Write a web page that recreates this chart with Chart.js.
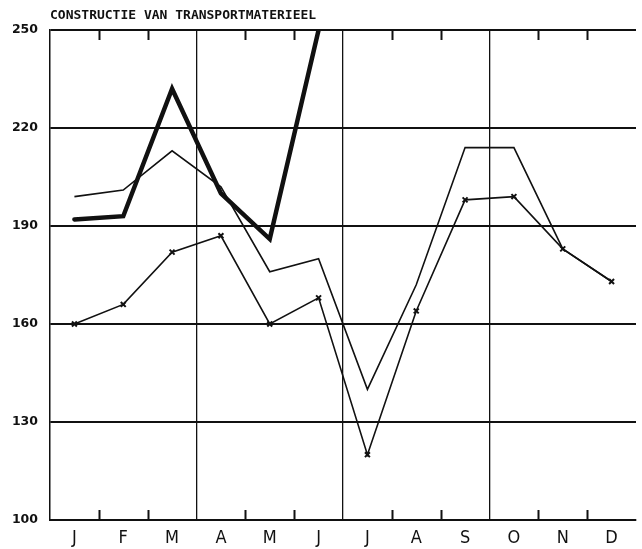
<!DOCTYPE html>
<html>
<head>
<meta charset="utf-8">
<script src="https://cdn.jsdelivr.net/npm/chart.js@4"></script>
<style>
  html, body { margin: 0; padding: 0; background: #fff; }
  #wrap { width: 642px; height: 549px; }
</style>
</head>
<body>
<div id="wrap"><canvas id="chart" width="642" height="549"></canvas></div>
<script>
// Months (Dutch initials) and the three series
const months = ['J', 'F', 'M', 'A', 'M', 'J', 'J', 'A', 'S', 'O', 'N', 'D'];
const thickSeries = [192, 193, 232, 200, 186, 250, null, null, null, null, null, null];
const plainSeries = [199, 201, 213, 202, 176, 180, 140, 172, 214, 214, 183, 173];
const crossSeries = [160, 166, 182, 187, 160, 168, 120, 164, 198, 199, 183, 173];
const yTicks = [100, 130, 160, 190, 220, 250];

const ink = '#111';

// Short tick marks inside the frame, at month boundaries between the quarter lines
const innerTicks = {
    id: 'innerTicks',
    afterDatasetsDraw(chart) {
        const { ctx, chartArea } = chart;
        const x = chart.scales.x;
        const w = (x.right - x.left) / months.length;
        ctx.save();
        ctx.strokeStyle = ink;
        ctx.lineWidth = 2;
        for (let i = 1; i < months.length; i++) {
            if (i % 3 === 0) continue;
            const px = Math.round(x.left + i * w) + 0.5;
            ctx.beginPath();
            ctx.moveTo(px, chartArea.top);
            ctx.lineTo(px, chartArea.top + 10);
            ctx.moveTo(px, chartArea.bottom);
            ctx.lineTo(px, chartArea.bottom - 10);
            ctx.stroke();
        }
        ctx.restore();
    }
};

const ctx = document.getElementById('chart').getContext('2d');

new Chart(ctx, {
    type: 'line',
    data: {
        labels: months,
        datasets: [
            {
                label: 'dik',
                data: thickSeries,
                borderColor: ink,
                borderWidth: 4.5,
                borderCapStyle: 'round',
                borderJoinStyle: 'miter',
                pointRadius: 0,
                spanGaps: false,
                tension: 0
            },
            {
                label: 'dun',
                data: plainSeries,
                borderColor: ink,
                borderWidth: 1.6,
                pointRadius: 0,
                tension: 0
            },
            {
                label: 'kruis',
                data: crossSeries,
                borderColor: ink,
                borderWidth: 1.6,
                pointStyle: 'crossRot',
                pointRadius: 3.5,
                pointBorderWidth: 2,
                pointBorderColor: ink,
                tension: 0
            }
        ]
    },
    options: {
        responsive: false,
        animation: false,
        events: [],
        layout: { padding: { right: -4 } },
        plugins: {
            legend: { display: false },
            tooltip: { enabled: false },
            title: {
                display: true,
                text: 'CONSTRUCTIE VAN TRANSPORTMATERIEEL',
                align: 'start',
                fullSize: false,
                color: ink,
                font: { family: 'DejaVu Sans Mono', size: 13, weight: 'bold', lineHeight: 1.2 },
                padding: { top: 8, bottom: 6.4 }
            }
        },
        scales: {
            x: {
                type: 'category',
                offset: true,
                grid: {
                    offset: true,
                    drawTicks: false,
                    lineWidth: 1.3,
                    color: (c) => (c.index % 3 === 0 ? ink : 'rgba(0,0,0,0)')
                },
                border: { display: true, color: ink, width: 2 },
                ticks: {
                    padding: 8,
                    color: ink,
                    font: { family: "'Liberation Sans Narrow', 'DejaVu Sans Condensed', sans-serif", size: 18 }
                },
                afterFit: (scale) => { scale.height = 29; }
            },
            y: {
                min: 100,
                max: 250,
                afterBuildTicks: (scale) => {
                    scale.ticks = yTicks.map(v => ({ value: v }));
                },
                grid: {
                    drawTicks: false,
                    lineWidth: 2,
                    color: ink
                },
                border: { display: true, color: ink, width: 1.3 },
                ticks: {
                    padding: 12,
                    color: ink,
                    font: { family: 'DejaVu Sans', size: 12.5, weight: 'bold' }
                },
                afterFit: (scale) => { scale.width = 50; }
            }
        }
    },
    plugins: [innerTicks]
});
</script>
</body>
</html>
